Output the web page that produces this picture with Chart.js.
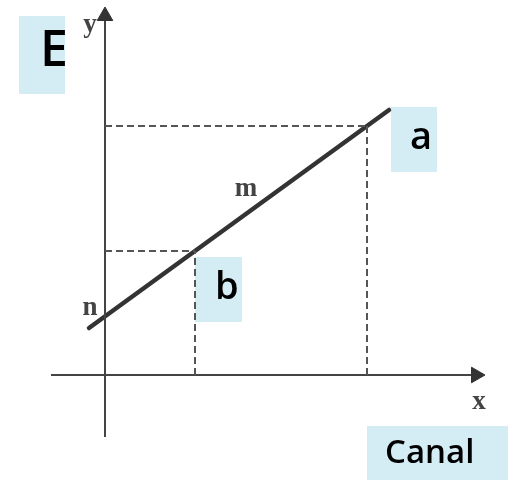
<!DOCTYPE html>
<html>
<head>
<meta charset="utf-8">
<script src="https://cdn.jsdelivr.net/npm/chart.js@4"></script>
<style>
html,body{margin:0;padding:0;background:#fff;}
#c{display:block;}
</style>
</head>
<body>
<canvas id="c" width="508" height="480"></canvas>
<script>
// ---- data (diagram units, origin at axes intersection) ----
const lineX = [-16, 284];
const lineY = [47, 265];
const pointA = [262, 249];
const pointB = [90, 124];
const xAxisSpan = [-54, 371];
const yAxisSpan = [-62, 359];
const boxLabels = ['E', 'a', 'b', 'Canal'];
const axisLabels = ['y', 'm', 'n', 'x'];

// ---- layout (positions in diagram units) ----
const boxRects = [
  [-86, 359, -40, 281],
  [286, 268, 332, 203],
  [90, 118, 137, 53],
  [262, -51, 403, -105]
];
const boxText = [
  {x: -65, y: 309, size: 50},
  {x: 305, y: 226, size: 38},
  {x: 110, y: 76, size: 38},
  {x: 280, y: -88, size: 33}
];
const serifPos = [
  {x: -15, y: 350},
  {x: 141, y: 186},
  {x: -15, y: 67},
  {x: 374, y: -27}
];

const dash = {borderColor: '#555', borderWidth: 2, borderDash: [7, 4], pointRadius: 0, fill: false, showLine: true};

const labelPlugin = {
  id: 'labels',
  beforeDatasetsDraw(chart) {
    const {ctx, scales: {x, y}} = chart;
    ctx.save();
    ctx.fillStyle = '#d4ecf4';
    boxRects.forEach(r => {
      const x0 = x.getPixelForValue(r[0]), y0 = y.getPixelForValue(r[1]);
      const x1 = x.getPixelForValue(r[2]), y1 = y.getPixelForValue(r[3]);
      ctx.fillRect(x0, y0, x1 - x0, y1 - y0);
    });
    ctx.restore();
  },
  afterDatasetsDraw(chart) {
    const {ctx, scales: {x, y}} = chart;
    ctx.save();
    ctx.fillStyle = '#000';
    ctx.textAlign = 'left';
    ctx.textBaseline = 'alphabetic';
    boxLabels.forEach((t, i) => {
      const p = boxText[i];
      ctx.font = '600 ' + p.size + 'px "Open Sans"';
      ctx.fillText(t, x.getPixelForValue(p.x), y.getPixelForValue(p.y));
    });
    ctx.fillStyle = '#444';
    ctx.textAlign = 'center';
    ctx.textBaseline = 'middle';
    ctx.font = 'bold 27px "Liberation Serif"';
    axisLabels.forEach((t, i) => {
      const p = serifPos[i];
      ctx.fillText(t, x.getPixelForValue(p.x), y.getPixelForValue(p.y));
    });
    ctx.restore();
  }
};

new Chart(document.getElementById('c'), {
  type: 'scatter',
  data: {
    datasets: [
      Object.assign({data: [{x: 0, y: pointA[1]}, {x: pointA[0], y: pointA[1]}]}, dash),
      Object.assign({data: [{x: pointA[0], y: 0}, {x: pointA[0], y: pointA[1]}]}, dash),
      Object.assign({data: [{x: 0, y: pointB[1]}, {x: pointB[0], y: pointB[1]}]}, dash),
      Object.assign({data: [{x: pointB[0], y: 0}, {x: pointB[0], y: pointB[1]}]}, dash),
      {
        data: [{x: xAxisSpan[0], y: 0}, {x: xAxisSpan[1], y: 0}],
        showLine: true, borderColor: '#444', borderWidth: 2,
        pointRadius: [0, 9], pointStyle: 'triangle', pointRotation: 90,
        backgroundColor: '#333', pointBorderColor: '#333', pointBorderWidth: 1
      },
      {
        data: [{x: 0, y: yAxisSpan[0]}, {x: 0, y: yAxisSpan[1]}],
        showLine: true, borderColor: '#444', borderWidth: 2,
        pointRadius: [0, 9], pointStyle: 'triangle', pointRotation: 0,
        backgroundColor: '#333', pointBorderColor: '#333', pointBorderWidth: 1
      },
      {
        data: lineX.map((v, i) => ({x: v, y: lineY[i]})),
        showLine: true, borderColor: '#333', borderWidth: 4.5,
        borderCapStyle: 'round', pointRadius: 0
      }
    ]
  },
  options: {
    responsive: false,
    animation: false,
    layout: {padding: 0, autoPadding: false},
    plugins: {legend: {display: false}, tooltip: {enabled: false}},
    scales: {
      x: {type: 'linear', min: -105, max: 403, display: false},
      y: {type: 'linear', min: -105, max: 375, display: false}
    }
  },
  plugins: [labelPlugin]
});
</script>
</body>
</html>
